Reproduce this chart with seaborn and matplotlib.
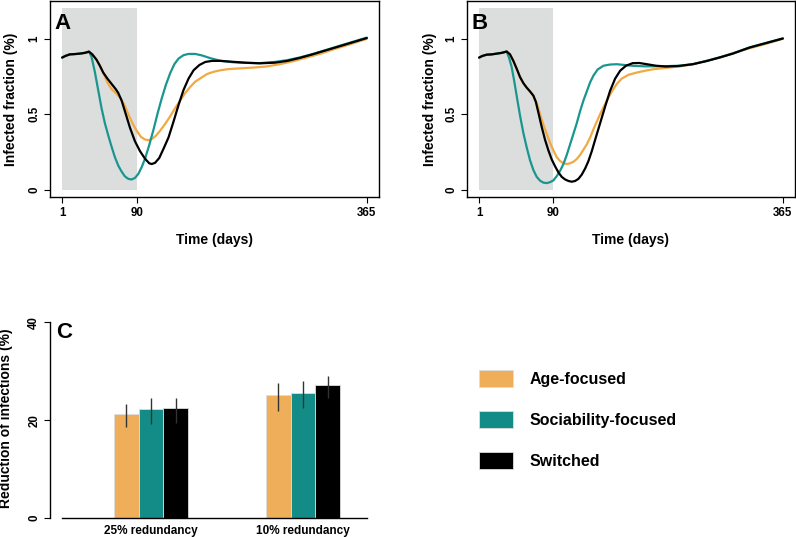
import matplotlib
matplotlib.use('Agg')
import matplotlib.pyplot as plt
import numpy as np
import pandas as pd
import seaborn as sns

# ---------------- data ----------------
strategies = ['Age-focused', 'Sociability-focused', 'Switched']
line_colors = ['#F2A941', '#1A9690', '#000000']
bar_colors = ['#EFAE59', '#138C87', '#000000']

# intervention window (grey band)
window_days = [1, 90]
window_top = 1.2

# panel A
a_age_days = [1, 5, 10, 16, 22, 28, 33, 37, 42, 46, 50, 55, 60, 65, 70, 75, 80, 85, 90, 95, 100,
              104, 108, 113, 118, 124, 130, 136, 142, 148, 154, 160, 167, 174, 182, 190,
              200, 215, 230, 245, 261, 277, 293, 310, 325, 345, 365]
a_age_vals = [0.874, 0.885, 0.895, 0.897, 0.900, 0.905, 0.913, 0.895, 0.860, 0.820, 0.775,
              0.710, 0.665, 0.640, 0.610, 0.565, 0.500, 0.440, 0.390, 0.350, 0.332,
              0.328, 0.335, 0.357, 0.390, 0.435, 0.485, 0.540, 0.590, 0.640, 0.680, 0.715, 0.740, 0.765, 0.780, 0.790,
              0.798, 0.803, 0.808, 0.815, 0.830, 0.850, 0.874, 0.900, 0.928, 0.962, 0.998]

a_soc_days = [1, 5, 10, 16, 22, 28, 33, 36, 40, 44, 48, 52, 56, 60, 64, 68, 72, 76, 80, 84, 88, 92, 96, 100,
              105, 110, 115, 120, 125, 130, 135, 140, 146, 152, 160, 168, 178, 190,
              205, 220, 237, 255, 270, 285, 300, 318, 335, 350, 365]
a_soc_vals = [0.874, 0.885, 0.895, 0.897, 0.900, 0.905, 0.913,
              0.880, 0.780, 0.660, 0.540, 0.440, 0.360, 0.285, 0.215, 0.160, 0.120, 0.088, 0.072, 0.068, 0.078, 0.105, 0.150, 0.205,
              0.295, 0.395, 0.505, 0.605, 0.695, 0.770, 0.830, 0.867, 0.890, 0.898, 0.898, 0.888, 0.870, 0.853,
              0.843, 0.839, 0.837, 0.845, 0.857, 0.875, 0.897, 0.927, 0.956, 0.981, 1.006]

a_sw_days = [1, 5, 10, 16, 22, 28, 33, 37, 42, 46, 50, 55, 60, 65, 68, 72, 77, 82, 88, 94, 100,
             105, 108, 112, 117, 122, 128, 134, 140, 146, 152, 158, 165, 172, 180, 190,
             205, 220, 237, 255, 270, 285, 300, 318, 335, 350, 365]
a_sw_vals = [0.874, 0.885, 0.895, 0.897, 0.900, 0.905, 0.913,
             0.895, 0.860, 0.820, 0.775, 0.735, 0.700, 0.665, 0.640, 0.590, 0.500, 0.410, 0.320, 0.255, 0.205,
             0.175, 0.170, 0.178, 0.210, 0.270, 0.345, 0.450, 0.560, 0.660, 0.735, 0.790, 0.825, 0.845, 0.852, 0.852,
             0.846, 0.840, 0.836, 0.840, 0.852, 0.872, 0.895, 0.925, 0.953, 0.978, 1.003]

# panel B
b_age_days = [1, 5, 10, 16, 22, 28, 34, 38, 42, 46, 50, 54, 58, 62, 66,
              70, 74, 78, 82, 86, 90, 94, 98, 102, 106, 110, 114, 118, 122, 126, 130, 134, 138, 142, 146, 150,
              155, 160, 166, 172, 180, 190, 200, 210, 225, 241, 257, 273, 290, 305, 325, 345, 365]
b_age_vals = [0.874, 0.885, 0.893, 0.895, 0.900, 0.905, 0.914,
              0.895, 0.852, 0.800, 0.745, 0.705, 0.675, 0.650, 0.622,
              0.575, 0.500, 0.430, 0.370, 0.310, 0.260, 0.215, 0.190, 0.175, 0.170, 0.175, 0.185, 0.203, 0.230, 0.265,
              0.300, 0.345, 0.400, 0.450, 0.500, 0.545,
              0.600, 0.650, 0.700, 0.735, 0.760, 0.775, 0.787, 0.797, 0.806, 0.815, 0.830, 0.852, 0.875, 0.903, 0.935, 0.965, 0.998]

b_soc_days = [1, 5, 10, 16, 22, 28, 34, 37, 40, 43, 46, 50, 54, 58, 62, 66, 70, 74, 78, 82, 86, 90, 94, 98, 102,
              106, 110, 114, 118, 122, 126, 130, 134, 138, 143, 150, 158, 166, 175, 186, 200,
              225, 240, 257, 273, 289, 305, 325, 345, 365]
b_soc_vals = [0.874, 0.885, 0.893, 0.895, 0.900, 0.905, 0.914,
              0.870, 0.810, 0.720, 0.620, 0.490, 0.375, 0.280, 0.195, 0.130, 0.085, 0.060, 0.047, 0.044, 0.050, 0.062, 0.090, 0.125, 0.170,
              0.230, 0.300, 0.370, 0.440, 0.520, 0.590, 0.650, 0.710, 0.755, 0.795, 0.820, 0.828, 0.830, 0.825, 0.819, 0.816,
              0.817, 0.820, 0.830, 0.851, 0.875, 0.901, 0.941, 0.971, 1.001]

b_sw_days = [1, 5, 10, 16, 22, 28, 34, 38, 42, 46, 50, 54, 58, 62, 66,
             69, 72, 76, 80, 84, 88, 92, 96, 100, 104, 108, 112, 116, 120, 124, 128, 132, 136, 140,
             146, 152, 158, 164, 170, 177, 185, 193, 202, 213, 225, 240, 257, 273, 289, 305, 325, 345, 365]
b_sw_vals = [0.874, 0.885, 0.893, 0.895, 0.900, 0.905, 0.914,
             0.895, 0.852, 0.800, 0.745, 0.705, 0.675, 0.650, 0.622,
             0.580, 0.510, 0.415, 0.330, 0.260, 0.200, 0.155, 0.115, 0.085, 0.068, 0.058, 0.053, 0.058, 0.072, 0.100,
             0.140, 0.190, 0.255, 0.330,
             0.440, 0.550, 0.655, 0.735, 0.787, 0.820, 0.837, 0.838, 0.830, 0.820, 0.815, 0.818, 0.830, 0.850, 0.874,
             0.900, 0.940, 0.970, 1.000]

# panel C
scenarios = ['25% redundancy', '10% redundancy']
red_age = [21.3, 25.2]
red_soc = [22.2, 25.6]
red_sw = [22.4, 27.2]
red_age_lo = [18.5, 21.9]
red_age_hi = [23.4, 27.5]
red_soc_lo = [19.2, 22.4]
red_soc_hi = [24.5, 28.0]
red_sw_lo = [19.5, 24.5]
red_sw_hi = [24.5, 29.0]

x_ticks = [1, 90, 365]
y_ticks = [0, 0.5, 1]
y_ticklabels = ['0', '0.5', '1']
c_yticks = [0, 20, 40]

# ---------------- style ----------------
sns.set_style('white')
plt.rcParams['font.family'] = ['Liberation Sans', 'DejaVu Sans']
plt.rcParams['font.weight'] = 'bold'
plt.rcParams['axes.labelweight'] = 'bold'
plt.rcParams['text.color'] = 'black'
plt.rcParams['axes.labelcolor'] = 'black'
plt.rcParams['xtick.color'] = 'black'
plt.rcParams['ytick.color'] = 'black'

fig = plt.figure(figsize=(7.96, 5.37), dpi=100)


def line_frame(series):
    frames = []
    for name, days, vals in series:
        frames.append(pd.DataFrame({'day': days, 'frac': vals, 'strategy': name}))
    return pd.concat(frames, ignore_index=True)


def draw_line_panel(ax, df, letter, ylab_x):
    ax.fill_between(window_days, 0, window_top, color='#DCDDDD', lw=0, zorder=0)
    sns.lineplot(data=df, x='day', y='frac', hue='strategy', hue_order=strategies,
                 palette=line_colors, estimator=None, sort=False, legend=False,
                 lw=1.6, ax=ax)
    ax.set_xlim(1 - 364 * 0.04, 365 + 364 * 0.04)
    ax.set_ylim(-1.2 * 0.04, 1.2 * 1.04)
    ax.set_xticks(x_ticks)
    ax.set_xticklabels([str(t) for t in x_ticks])
    ax.set_yticks(y_ticks)
    ax.set_yticklabels(y_ticklabels)
    plt.setp(ax.get_yticklabels(), rotation=90, va='center')
    ax.tick_params(direction='out', length=4, width=0.8, color='black', labelsize=8.3, pad=3,
                   bottom=True, left=True)
    for s in ax.spines.values():
        s.set_color('black')
        s.set_linewidth(1.0)
    ax.set_xlabel('Time (days)', fontsize=10, fontweight='bold')
    ax.set_ylabel('Infected fraction (%)', fontsize=10, fontweight='bold')
    ax.xaxis.set_label_coords(0.5, -0.185)
    ax.yaxis.set_label_coords(ylab_x, 0.5)
    ax.text(0.015, 0.885, letter, transform=ax.transAxes, fontsize=16, fontweight='bold',
            ha='left', va='center')


ax_a = fig.add_axes([50 / 796, (537 - 197) / 537, 329 / 796, 196 / 537])
df_a = line_frame([(strategies[0], a_age_days, a_age_vals),
                   (strategies[1], a_soc_days, a_soc_vals),
                   (strategies[2], a_sw_days, a_sw_vals)])
draw_line_panel(ax_a, df_a, 'A', -0.096)

ax_b = fig.add_axes([467 / 796, (537 - 197) / 537, 328 / 796, 196 / 537])
df_b = line_frame([(strategies[0], b_age_days, b_age_vals),
                   (strategies[1], b_soc_days, b_soc_vals),
                   (strategies[2], b_sw_days, b_sw_vals)])
draw_line_panel(ax_b, df_b, 'B', -0.092)

# ---------------- panel C ----------------
ax_c = fig.add_axes([50 / 796, (537 - 518) / 537, 329 / 796, 205.5 / 537])
df_c = pd.DataFrame({
    'scenario': scenarios * 3,
    'reduction': red_age + red_soc + red_sw,
    'lo': red_age_lo + red_soc_lo + red_sw_lo,
    'hi': red_age_hi + red_soc_hi + red_sw_hi,
    'strategy': [strategies[0]] * 2 + [strategies[1]] * 2 + [strategies[2]] * 2,
})
sns.barplot(data=df_c, x='scenario', y='reduction', hue='strategy', hue_order=strategies,
            order=scenarios, palette=bar_colors, errorbar=None, width=0.49, saturation=1,
            edgecolor='#DDDDDD', linewidth=0.6, ax=ax_c)

# error bars from the bar positions seaborn produced
for cont, strat in zip(ax_c.containers, strategies):
    sub = df_c[df_c['strategy'] == strat].set_index('scenario').loc[scenarios]
    xs = [p.get_x() + p.get_width() / 2 for p in cont.patches]
    ax_c.vlines(xs, sub['lo'].values, sub['hi'].values, color='#333333', lw=1.0, zorder=5)

ax_c.set_xlim(-0.6645, 1.5)
ax_c.set_ylim(0, 42)
ax_c.set_yticks(c_yticks)
ax_c.set_yticklabels([str(t) for t in c_yticks])
plt.setp(ax_c.get_yticklabels(), rotation=90, va='center')
ax_c.tick_params(axis='y', direction='out', length=4, width=0.8, color='black', labelsize=8.3, pad=3, left=True)
ax_c.tick_params(axis='x', length=0, labelsize=8.5, pad=5)
for lab in ax_c.get_xticklabels():
    lab.set_fontweight('bold')
ax_c.spines['top'].set_visible(False)
ax_c.spines['right'].set_visible(False)
ax_c.spines['left'].set_bounds(0, 40)
ax_c.spines['bottom'].set_bounds(-0.586, 1.421)
for s in ('left', 'bottom'):
    ax_c.spines[s].set_color('black')
    ax_c.spines[s].set_linewidth(1.0)
ax_c.set_xlabel('')
ax_c.set_ylabel('Reduction of infections (%)', fontsize=10, fontweight='bold')
ax_c.yaxis.set_label_coords(-0.111, 0.487)
ax_c.text(0.02, 0.905, 'C', transform=ax_c.transAxes, fontsize=16, fontweight='bold',
          ha='left', va='center')

sns.move_legend(ax_c, 'upper left', bbox_to_anchor=(479 / 796, (537 - 370) / 537),
                bbox_transform=fig.transFigure, frameon=False, title=None,
                prop={'weight': 'bold', 'size': 11.5}, handlelength=2.1, handleheight=1.25,
                labelspacing=1.5, handletextpad=1.05, borderpad=0, borderaxespad=0)

fig.savefig('out.png', dpi=100)
